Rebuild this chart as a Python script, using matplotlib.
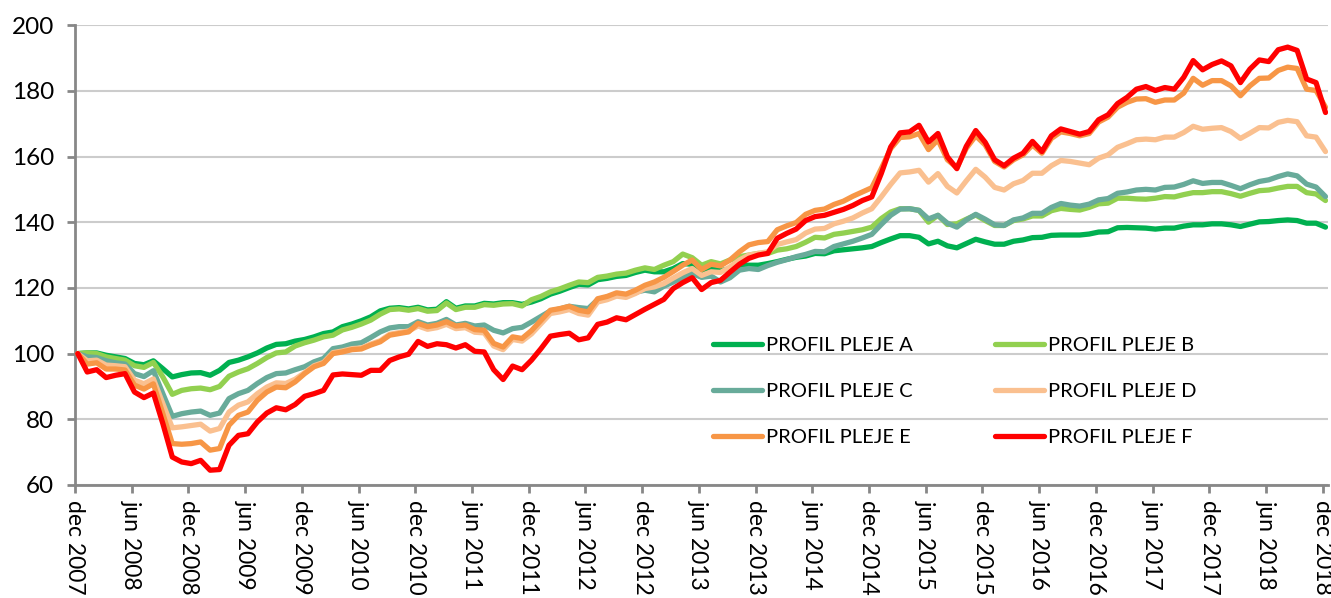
import numpy as np
import matplotlib
matplotlib.use("Agg")
import matplotlib.pyplot as plt

plt.rcParams['font.family'] = ['Lato', 'DejaVu Sans']

# monthly index values, dec 2007 = 100
profil_a = [100, 100.2, 100.2, 99.5, 99, 98.5, 97, 96.6, 97.8, 95.4, 92.9, 93.6, 94.1, 94.2, 93.4, 94.9, 97.3, 98, 99, 100.2, 101.7, 102.8, 103, 103.8,
            104.3, 105.1, 106.1, 106.6, 108.2, 109, 110, 111.2, 113, 113.8, 114, 113.6, 114.1, 113.3, 113.5, 115.8, 113.8, 114.5, 114.5, 115.3, 115.1, 115.5, 115.5,
            115,
            115.7, 116.7, 118.1, 119, 120.1, 121.1, 120.9, 122.5, 122.9, 123.5, 123.8, 124.7, 125.4, 124.9,
            124.9, 125.9, 127.4, 127.2, 124.9, 125.9, 125.2, 125.9, 126.9, 126.9, 126.9, 127.4, 128, 128.7, 129.3,
            129.7, 130.5, 130.4, 131.3, 131.6, 131.9, 132.2, 132.6, 133.8, 134.9, 135.9, 135.9, 135.4, 133.4, 134.2, 132.8, 132.2,
            133.5, 134.8, 134, 133.3, 133.3, 134.2, 134.6, 135.3, 135.4, 136, 136.1, 136.1, 136.1, 136.4, 137, 137.1, 138.3, 138.4, 138.3, 138.2,
            137.9, 138.2, 138.2, 138.8, 139.2, 139.2, 139.5, 139.5, 139.2, 138.7, 139.4, 140.1, 140.2, 140.5, 140.7, 140.5, 139.7, 139.7, 138.5]

profil_b = [100, 100.2, 100, 99, 98.5, 98, 96.3, 95.8, 97.3, 92.9, 87.6, 88.8, 89.3, 89.5, 89, 90, 93.1, 94.4, 95.4, 97, 98.8, 100.2, 100.5, 102.3,
            103.3, 104.1, 105.1, 105.6, 107.2, 108, 109, 110.2, 112,
            113.4, 113.6, 113.2, 113.7, 112.9, 113.1, 115.4, 113.4, 114.1, 114.1, 114.9, 114.7, 115.1, 115.2,
            114.5,
            116.4, 117.4, 118.8, 119.7, 120.8, 121.8, 121.6, 123.2, 123.6, 124.2, 124.5, 125.4, 126.1, 125.6,
            126.9, 128, 130.3, 129.2, 126.9, 128, 127.3, 128.5, 129.5, 130, 130.5, 130.5, 131.5, 131.9, 132.6,
            133.9, 135.4, 135.2, 136.3, 136.7, 137.2, 137.7, 138.5, 141.1, 143.1, 144.1, 144.1, 143.6, 140, 142.1, 139.3, 139.5,
            140.9, 142.2, 140.5, 139, 139, 140.5, 141, 141.9, 141.9, 143.5, 144.2, 143.9, 143.7, 144.5, 145.6, 145.8, 147.3, 147.3, 147.1, 147.0,
            147.3, 147.8, 147.7, 148.4, 149, 149, 149.3, 149.3, 148.7, 147.9, 148.8, 149.6, 149.8, 150.4, 150.9, 150.9, 149, 148.6, 146.6]

profil_c = [100, 99, 98.8, 97.8, 97.2, 96.8, 93.9, 93, 94.8, 87.8, 80.9, 81.7, 82.2, 82.5, 81.2, 81.9, 86.3, 87.8, 88.8, 90.9, 92.7, 93.9, 94.1, 95.1,
            96, 97.5, 98.5, 101.5, 102, 102.9, 103.3, 104.9, 106.6, 107.8, 108.2, 108.2, 109.7, 108.7, 109.2, 110.4, 108.7, 109.2, 108.4, 108.7, 107.1, 106.3, 107.6, 108,
            109.6, 111.3, 113, 113.6, 114.4, 114, 113.7, 116.4, 117.2, 117.7, 117.8, 118.7, 119.3, 118.8,
            120.5, 121.8, 123.2, 124.4, 123.2, 123.6, 121.8, 123.1, 125.4, 125.9, 125.6, 126.8, 127.8, 128.6, 129.5,
            130.2, 131.1, 131, 132.6, 133.4, 134.2, 135.2, 136.3, 139.3, 142.1, 144, 144.1, 143.6, 141, 142.1, 139.7, 138.5,
            140.7, 142.4, 140.9, 139.2, 139, 140.7, 141.3, 142.7, 142.7, 144.5, 145.7, 145.2, 144.9, 145.5, 146.8, 147.2, 148.8, 149.2, 149.8, 150,
            149.8, 150.6, 150.7, 151.5, 152.6, 151.8, 152.1, 152.1, 151.2, 150.2, 151.4, 152.4, 152.9, 153.9, 154.7, 154.1, 151.6, 150.7, 147.8]

profil_d = [100, 97.8, 98, 96.5, 96.3, 96, 91.9, 90.8, 92.3, 84.8, 77.4, 77.7, 78.1, 78.5, 76.4, 77.2, 82.2, 84.3, 85.3, 87.8, 89.8, 91.1, 90.9, 92.2,
            94.2, 96.3, 97.3, 100.3, 100.8, 101.5, 101.7, 102.9, 103.9, 105.9, 106.4, 106.9,
            108.4, 107.4, 107.9, 108.9, 107.6, 107.9, 106.5, 106.3, 102.3, 101.2, 104.3, 103.8,
            106, 109.1, 112.2, 112.7, 113.4, 112.2, 111.7, 115.7, 116.4, 117.5, 117.1, 118.3, 119.8, 120.3,
            121.3, 123, 124.6, 125.9, 123.8, 124.9, 124.7, 126.4, 128.5, 130, 130.5, 131, 133.2, 134, 134.7,
            136.7, 137.9, 138.1, 139.5, 140.3, 141.3, 142.8, 144.1, 147.7, 151.5, 155, 155.3, 155.8, 152.2, 154.8, 150.9, 148.9,
            152.6, 156.1, 153.7, 150.6, 149.8, 151.7, 152.7, 154.9, 154.9, 157.2, 158.8, 158.5, 158, 157.5, 159.5, 160.5, 162.8, 163.9, 165.1, 165.3,
            165.1, 165.9, 165.9, 167.3, 169.2, 168.3, 168.6, 168.8, 167.6, 165.5, 167.1, 168.8, 168.7, 170.4, 171, 170.6, 166.3, 165.9, 161.5]

profil_e = [100, 96.8, 97.2, 95.3, 95.3, 95, 90.4, 89.2, 90.8, 81.7, 72.6, 72.4, 72.6, 73.1, 70.6, 71.1, 78.2, 81.2, 82.2, 85.8, 88.3, 89.8, 89.6, 91.4,
            93.9, 96, 97, 100, 100.5, 101.2, 101.4, 102.6, 103.6, 105.6, 106.1, 106.6, 109.2, 108.2, 108.7, 109.7, 108.4, 108.7, 107.3, 107.1, 103.1, 102, 105.1, 104.6,
            107, 110.1, 113.2, 113.7, 114.4, 113.2, 112.7, 116.7, 117.4, 118.5, 118.1, 119.3, 120.8, 121.8,
            123.2, 125, 126.9, 128.5, 125.6, 127.2, 126.7, 128.5, 131, 133.1, 133.8, 134.1, 137.7, 138.9, 139.9,
            142.4, 143.6, 144, 145.4, 146.4, 147.9, 149.2, 150.5, 156.3, 162.4, 165.8, 166, 167, 162.1, 165.1, 159, 156.6,
            162.5, 166.3, 163.5, 158.5, 156.8, 159, 160.5, 163.5, 161, 165.5, 167.5, 167, 166.3, 167, 170.5, 172, 175, 176.5, 177.5,
            177.6, 176.5, 177.2, 177.2, 179.3, 183.8, 181.7, 183.1, 183.1, 181.5, 178.5, 181.5, 183.8, 183.9, 186.2, 187.2, 186.8, 180.5, 180.1, 175]

profil_f = [100, 94.4, 95.1, 92.7, 93.4, 93.9, 88.3, 86.6, 88, 78.7, 68.5, 67, 66.5, 67.5, 64.5, 64.7, 72.1, 75.1, 75.6, 79.2, 81.9, 83.5, 82.9, 84.5,
            87, 87.8, 88.8, 93.5, 93.8, 93.6, 93.4, 94.9, 94.9, 97.9, 99, 99.8, 103.7, 102.2, 103, 102.7, 101.7, 102.7, 100.7, 100.5, 95.1, 92.1, 96.2, 95.1,
            98, 101.5, 105.3, 105.8, 106.2, 104.2, 104.8, 108.9, 109.6, 110.9, 110.3, 111.9, 113.5, 115,
            116.5, 119.8, 121.6, 123.1, 119.5, 121.6, 122.3, 124.8, 127.2, 129, 130, 130.5, 135.1, 136.6, 137.9,
            140.5, 141.7, 142.1, 143, 143.9, 145.1, 146.6, 147.7, 154.8, 162.9, 167.2, 167.5, 169.5, 164.4, 167, 159.9, 156.3,
            163.1, 167.9, 164.3, 159, 157.2, 159.5, 161, 164.6, 161.5, 166.3, 168.4, 167.6, 166.8, 167.6, 171.2, 172.7, 176.1, 178, 180.5,
            181.3, 180.1, 181, 180.5, 184.1, 189.2, 186.4, 188, 189.1, 187.6, 182.5, 186.6, 189.4, 188.9, 192.5, 193.3, 192.3, 183.6, 182.5, 173.4]

tick_labels = ['dec 2007', 'jun 2008', 'dec 2008', 'jun 2009', 'dec 2009', 'jun 2010', 'dec 2010',
               'jun 2011', 'dec 2011', 'jun 2012', 'dec 2012', 'jun 2013', 'dec 2013', 'jun 2014',
               'dec 2014', 'jun 2015', 'dec 2015', 'jun 2016', 'dec 2016', 'jun 2017', 'dec 2017',
               'jun 2018', 'dec 2018']

names = ['PROFIL PLEJE A', 'PROFIL PLEJE B', 'PROFIL PLEJE C',
         'PROFIL PLEJE D', 'PROFIL PLEJE E', 'PROFIL PLEJE F']
colors = ['#00b050', '#92d050', '#68ab9a', '#fac090', '#f79646', '#ff0000']
series = [profil_a, profil_b, profil_c, profil_d, profil_e, profil_f]

months = np.arange(len(profil_a))

fig = plt.figure(figsize=(13.31, 5.98), dpi=100)
ax = fig.add_axes([0.0563, 0.189, 0.9417, 0.769])

lines = []
for vals, name, col in zip(series, names, colors):
    ln, = ax.plot(months, vals, color=col, lw=3.8, label=name,
                  solid_joinstyle='round', solid_capstyle='round', zorder=3)
    lines.append(ln)

ax.set_ylim(60, 200)
ax.set_yticks(np.arange(60, 201, 20))
ax.set_xlim(-0.3, len(months) - 0.7)
ax.set_xticks(np.arange(0, len(months), 6) - 0.3)
ax.set_xticklabels(tick_labels, rotation=-90, va='top', ha='center')

ax.grid(axis='y', color='#cccccc', lw=1.5, zorder=0)
ax.set_axisbelow(True)
for s in ['top', 'right']:
    ax.spines[s].set_visible(False)
for s in ['left', 'bottom']:
    ax.spines[s].set_color('#878787')
    ax.spines[s].set_linewidth(2)
ax.tick_params(axis='both', colors='#878787', width=2, length=6, labelcolor='black')
ax.tick_params(axis='y', labelsize=17.5, pad=9)
ax.tick_params(axis='x', labelsize=16.5, pad=5)

# legend: rows A/B, C/D, E/F
order = [0, 2, 4, 1, 3, 5]
ax.legend([lines[k] for k in order], [names[k] for k in order], ncol=2,
          frameon=False, fontsize=14.5, loc='upper left',
          bbox_to_anchor=(0.495, 0.362), handlelength=2.4, handletextpad=0.2,
          columnspacing=4.1, labelspacing=1.45)

fig.savefig('out.png', dpi=100)
